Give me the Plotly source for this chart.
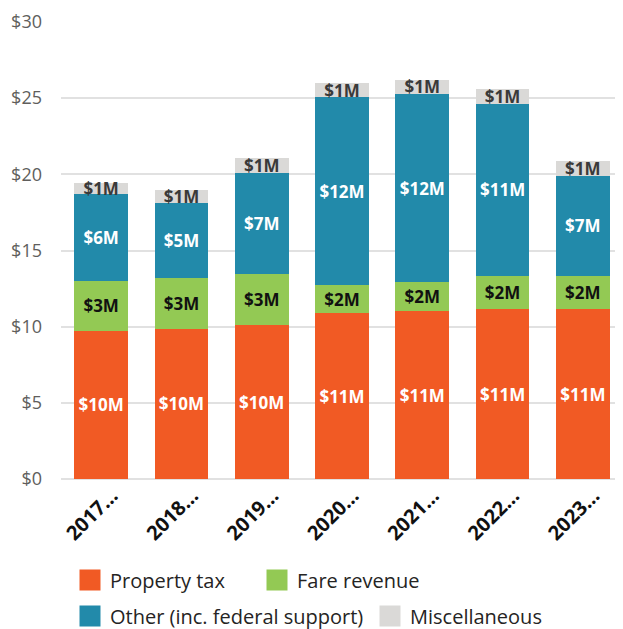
import plotly.graph_objects as go

categories = ["2017…", "2018…", "2019…", "2020…", "2021…", "2022…", "2023…"]
property_tax = [9.72, 9.86, 10.10, 10.87, 11.00, 11.13, 11.13]
fare_revenue = [3.29, 3.31, 3.35, 1.86, 1.92, 2.21, 2.21]
other_federal = [5.68, 4.96, 6.62, 12.33, 12.36, 11.30, 6.55]
miscellaneous = [0.76, 0.84, 1.02, 0.94, 0.92, 0.96, 0.98]
y_ticks = [0, 5, 10, 15, 20, 25, 30]
y_tick_labels = ["$0", "$5", "$10", "$15", "$20", "$25", "$30"]

series = [
    ("Property tax", property_tax, "#F15A24", "#FFFFFF", "legend"),
    ("Fare revenue", fare_revenue, "#93C954", "#111111", "legend"),
    ("Other (inc. federal support)", other_federal, "#228AAA", "#FFFFFF", "legend2"),
    ("Miscellaneous", miscellaneous, "#DAD9D7", "#3A3A3A", "legend2"),
]

FONT = "Open Sans"
W, H = 615, 621  # page adds an 8px body margin
fig = go.Figure()
for name, vals, color, tcolor, leg in series:
    fig.add_trace(go.Bar(
        x=categories, y=vals, name=name, showlegend=False,
        marker=dict(color=color, line=dict(width=0)),
        texttemplate="$%{y:.0f}M", textposition="inside",
        insidetextanchor="middle", constraintext="none",
        textfont=dict(family=FONT, size=17, color=tcolor, weight="bold"),
        hoverinfo="skip",
    ))

entry_widths = {"Property tax": 142, "Fare revenue": None,
                "Other (inc. federal support)": 255, "Miscellaneous": None}
for name, vals, color, tcolor, leg in series:
    kw = {}
    if entry_widths[name]:
        kw["legendwidth"] = entry_widths[name]
    fig.add_trace(go.Scatter(
        x=[None], y=[None], name=name, mode="markers", legend=leg,
        marker=dict(symbol="square", size=16, color=color,
                    line=dict(color=color, width=5)),
        showlegend=True, **kw,
    ))

legend_common = dict(orientation="h", xref="container", yref="container",
                     xanchor="left", yanchor="middle", traceorder="normal",
                     font=dict(family=FONT, size=20, color="#252423"),
                     itemclick=False, itemsizing="trace",
                     bgcolor="rgba(0,0,0,0)")

fig.update_layout(
    width=W, height=H,
    margin=dict(l=53, r=0, t=14, b=150, autoexpand=False),
    plot_bgcolor="white", paper_bgcolor="white",
    barmode="stack", bargap=0.33,
    font=dict(family=FONT, color="#333333"),
    uniformtext=dict(mode="show", minsize=17),
    xaxis=dict(
        tickangle=-45, showgrid=False, showline=False, automargin=False,
        tickfont=dict(family=FONT, size=20, color="#111111", weight="bold"),
        ticklabelshift=11,
    ),
    yaxis=dict(
        range=[0, 30], tickvals=y_ticks, ticktext=y_tick_labels,
        showgrid=True, gridcolor="#E1E1E1", gridwidth=1.5, automargin=False,
        zeroline=True, zerolinecolor="#E1E1E1", zerolinewidth=1.5,
        tickfont=dict(family=FONT, size=18, color="#605E5C"),
        ticklabelstandoff=18, showline=False,
    ),
    legend=dict(x=(70 - 8) / W, y=1 - (580 - 8) / H, **legend_common),
    legend2=dict(x=(70 - 8) / W, y=1 - (616 - 8) / H, **legend_common),
)

fig.write_html("out.html")
